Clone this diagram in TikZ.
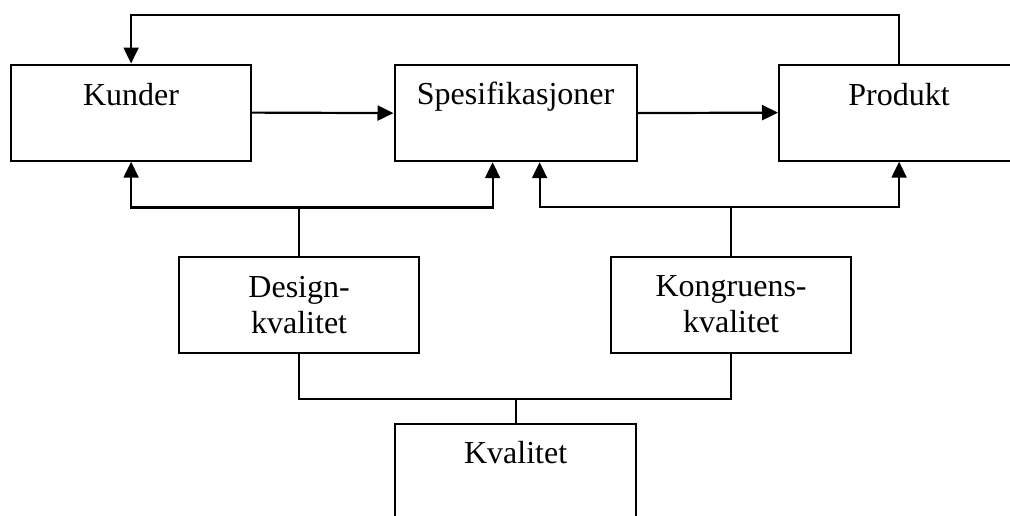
\documentclass[tikz,border=0pt]{standalone}
\usepackage{fontspec}
\setmainfont{Liberation Serif}
\usetikzlibrary{arrows.meta,calc}
\begin{document}
\begin{tikzpicture}[x=1pt,y=-1pt,
  box/.style={draw,line width=2.2pt,minimum width=240pt,minimum height=96pt,inner sep=0pt,anchor=north west},
  lbl/.style={anchor=base,font=\fontsize{32}{36}\selectfont,inner sep=0pt},
  link/.style={line width=2.2pt},
  arr/.style={link,-{Triangle[length=16pt,width=15pt]}}]
\useasboundingbox (0,0) rectangle (1010,515);
% boxes
\node[box] (kunder) at (10,63.5) {};
\node[box,minimum width=242pt] (spes) at (393.5,64) {};
\node[box] (produkt) at (778,63.5) {};
\node[box] (design) at (178,256) {};
\node[box] (kongr) at (610,255.5) {};
\node[box,minimum width=241pt] (kval) at (394,423) {};
% labels
\node[lbl] at ($(kunder.north)+(0,42)$) {Kunder};
\node[lbl] at ($(spes.north)+(0,40)$) {Spesifikasjoner};
\node[lbl] at ($(produkt.north)+(0,42)$) {Produkt};
\node[lbl] at ($(design.north)+(0,41)$) {Design-};
\node[lbl] at ($(design.north)+(0,77)$) {kvalitet};
\node[lbl] at ($(kongr.north)+(0,41)$) {Kongruens-};
\node[lbl] at ($(kongr.north)+(0,77)$) {kvalitet};
\node[lbl] at ($(kval.north)+(0,40)$) {Kvalitet};
% main flow
\draw[arr] (kunder.east) -- (spes.west);
\draw[arr] (spes.east) -- (produkt.west);
\draw[arr] (produkt.north) -- ++(0,-48.5) -| (kunder.north);
% design quality branch
\coordinate (dj) at ($(design.north)+(0,-48.5)$);
\draw[link] (design.north) -- (dj);
\draw[arr] (dj) -| (kunder.south);
\draw[arr] (dj) -| ($(spes.south)+(-23,0)$);
% conformance quality branch
\coordinate (kj) at ($(kongr.north)+(0,-48.5)$);
\draw[link] (kongr.north) -- (kj);
\draw[arr] (kj) -| ($(spes.south)+(24,0)$);
\draw[arr] (kj) -| (produkt.south);
% quality tree
\coordinate (bj) at ($(kval.north)+(0,-24)$);
\draw[link] (design.south) |- (bj) -| (kongr.south);
\draw[link] (kval.north) -- (bj);
\end{tikzpicture}
\end{document}
